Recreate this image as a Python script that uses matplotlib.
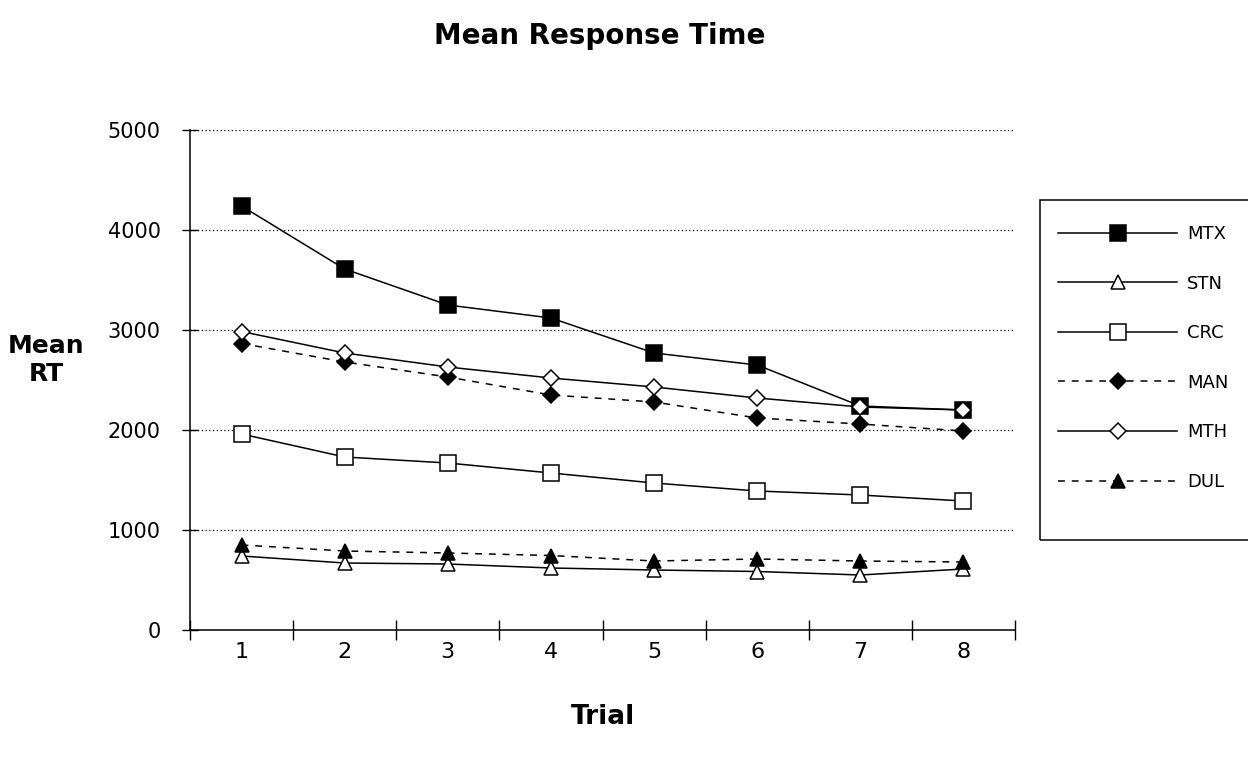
import matplotlib
matplotlib.use("Agg")
import matplotlib.pyplot as plt
from matplotlib.lines import Line2D
from matplotlib.patches import Rectangle

plt.rcParams['font.family'] = ['DejaVu Sans']

trials = [1, 2, 3, 4, 5, 6, 7, 8]
trial_labels = ["1", "2", "3", "4", "5", "6", "7", "8"]
y_ticks = [0, 1000, 2000, 3000, 4000, 5000]

mtx = [4240, 3610, 3250, 3120, 2770, 2650, 2240, 2200]
stn = [740, 670, 660, 620, 600, 585, 550, 610]
crc = [1960, 1730, 1670, 1570, 1470, 1390, 1350, 1290]
man = [2865, 2680, 2530, 2350, 2280, 2120, 2060, 1990]
mth = [2985, 2770, 2630, 2520, 2430, 2320, 2230, 2200]
dul = [850, 790, 770, 745, 690, 710, 690, 680]

series_names = ["MTX", "STN", "CRC", "MAN", "MTH", "DUL"]

W, H = 1248, 757
fig = plt.figure(figsize=(W / 100, H / 100), dpi=100)
ax = fig.add_axes([190 / W, 127 / H, 825 / W, 500 / H])

lw = 1.1
dash = (0, (4.5, 4.5))
styles = {
    "MTX": dict(ls="-", marker="s", ms=11, mfc="black", mec="black"),
    "STN": dict(ls="-", marker="^", ms=10, mfc="white", mec="black"),
    "CRC": dict(ls="-", marker="s", ms=11, mfc="white", mec="black"),
    "MAN": dict(ls=dash, marker="D", ms=8, mfc="black", mec="black"),
    "MTH": dict(ls="-", marker="D", ms=8, mfc="white", mec="black"),
    "DUL": dict(ls=dash, marker="^", ms=10, mfc="black", mec="black"),
}
data = {"MTX": mtx, "STN": stn, "CRC": crc, "MAN": man, "MTH": mth, "DUL": dul}

# dotted gridlines above zero
for v in y_ticks[1:]:
    ax.axhline(v, color="black", lw=0.9, ls=(0, (1, 2)), zorder=1)

handles = []
for name in series_names:
    st = styles[name]
    ax.plot(trials, data[name], color="black", lw=lw, mew=1.1, zorder=3,
            clip_on=False, **st)
    handles.append(Line2D([], [], color="black", lw=lw, mew=1.1, **st))

ax.set_xlim(0.5, 8.5)
ax.set_ylim(0, 5000)

ax.set_xticks([t + 0.5 for t in [0] + trials])
ax.set_xticklabels([])
ax.set_xticks(trials, minor=True)
ax.set_xticklabels(trial_labels, minor=True, fontsize=16)
ax.tick_params(axis="x", which="major", direction="inout", length=14, width=1)
ax.tick_params(axis="x", which="minor", length=0, pad=9)

ax.set_yticks(y_ticks)
ax.set_yticklabels([str(v) for v in y_ticks], fontsize=15)
ax.tick_params(axis="y", direction="inout", length=12, width=1, pad=15)

for s in ("top", "right"):
    ax.spines[s].set_visible(False)
for s in ("left", "bottom"):
    ax.spines[s].set_linewidth(1.1)

fig.text(600 / W, 1 - 36 / H, "Mean Response Time", ha="center", va="center",
         fontsize=20, fontweight="bold")
fig.text(46 / W, 1 - 360 / H, "Mean\nRT", ha="center", va="center",
         fontsize=18, fontweight="bold", linespacing=1.2)
fig.text(603 / W, 1 - 717 / H, "Trial", ha="center", va="center",
         fontsize=19, fontweight="bold")

# legend box
fig.add_artist(Rectangle((1040 / W, 1 - 540 / H), 230 / W, 340 / H,
                         transform=fig.transFigure, fill=False,
                         edgecolor="black", lw=1.1))
fig.legend(handles, series_names, loc="upper left",
           bbox_to_anchor=(1058 / W, 1 - 225 / H),
           bbox_transform=fig.transFigure,
           frameon=False, fontsize=13, handlelength=6.6, handletextpad=0.55,
           labelspacing=1.75, borderpad=0, borderaxespad=0)

fig.savefig("out.png", dpi=100)
